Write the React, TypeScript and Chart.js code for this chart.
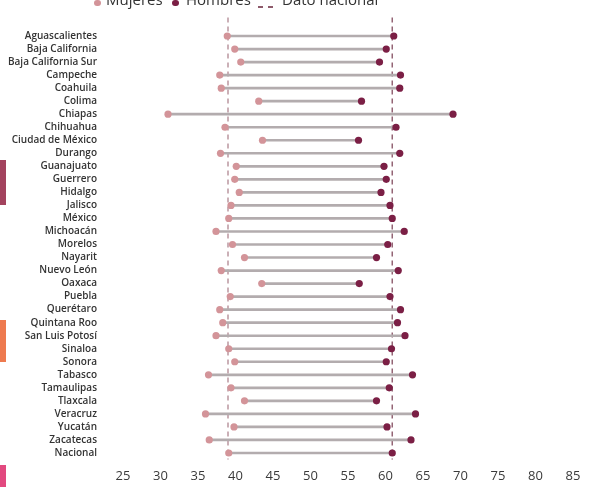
import React, { useEffect, useRef } from "react";
import { Chart, registerables } from "chart.js";

Chart.register(...registerables);

const states: string[] = [
  "Aguascalientes", "Baja California", "Baja California Sur", "Campeche", "Coahuila",
  "Colima", "Chiapas", "Chihuahua", "Ciudad de México", "Durango", "Guanajuato",
  "Guerrero", "Hidalgo", "Jalisco", "México", "Michoacán", "Morelos", "Nayarit",
  "Nuevo León", "Oaxaca", "Puebla", "Querétaro", "Quintana Roo", "San Luis Potosí",
  "Sinaloa", "Sonora", "Tabasco", "Tamaulipas", "Tlaxcala", "Veracruz", "Yucatán",
  "Zacatecas", "Nacional",
];

const mujeres: number[] = [
  38.9, 39.9, 40.7, 37.9, 38.1, 43.1, 31.0, 38.6, 43.6, 38.0, 40.1,
  39.9, 40.5, 39.4, 39.1, 37.4, 39.6, 41.2, 38.1, 43.5, 39.3, 37.9,
  38.3, 37.4, 39.1, 39.9, 36.4, 39.4, 41.2, 36.0, 39.8, 36.5, 39.1,
];

const hombres: number[] = [
  61.1, 60.1, 59.2, 62.0, 61.9, 56.8, 69.0, 61.4, 56.4, 61.9, 59.8,
  60.1, 59.4, 60.6, 60.9, 62.5, 60.3, 58.8, 61.7, 56.5, 60.6, 62.0,
  61.6, 62.6, 60.8, 60.1, 63.6, 60.5, 58.8, 64.0, 60.2, 63.4, 60.9,
];

const nacionalMujeres = 39.0;
const nacionalHombres = 60.9;

const xTicks: number[] = [25, 30, 35, 40, 45, 50, 55, 60, 65, 70, 75, 80, 85];

const FONT = "'Open Sans', 'DejaVu Sans', sans-serif";

export default function App() {
  const ref = useRef<HTMLCanvasElement | null>(null);

  useEffect(() => {
    if (!ref.current) return;
    const dashPlugin = {
      id: "nationalLines",
      beforeDatasetsDraw(chart: any) {
        const { ctx, chartArea, scales } = chart;
        const lines = [
          { v: nacionalMujeres, c: "#bb97a0" },
          { v: nacionalHombres, c: "#946575" },
        ];
        ctx.save();
        ctx.lineWidth = 1.5;
        ctx.setLineDash([5, 4]);
        lines.forEach((l) => {
          const x = scales.x.getPixelForValue(l.v);
          ctx.strokeStyle = l.c;
          ctx.beginPath();
          ctx.moveTo(x, chartArea.top - 12);
          ctx.lineTo(x, chartArea.bottom);
          ctx.stroke();
        });
        ctx.restore();
      },
    };

    const chart = new Chart(ref.current, {
      type: "bar",
      data: {
        labels: states,
        datasets: [
          {
            type: "line",
            label: "Hombres",
            indexAxis: "y",
            data: hombres,
            showLine: false,
            pointRadius: 3.6,
            pointBackgroundColor: "#7b1f45",
            pointBorderWidth: 0,
            borderColor: "#7b1f45",
            order: 1,
          } as any,
          {
            type: "line",
            label: "Mujeres",
            indexAxis: "y",
            data: mujeres,
            showLine: false,
            pointRadius: 3.6,
            pointBackgroundColor: "#d39499",
            pointBorderWidth: 0,
            borderColor: "#d39499",
            order: 2,
          } as any,
          {
            type: "bar",
            label: "Rango",
            indexAxis: "y",
            data: states.map((_, i) => [mujeres[i], hombres[i]]),
            backgroundColor: "#b3acae",
            barThickness: 2,
            borderWidth: 0,
            order: 3,
          } as any,
        ],
      },
      options: {
        indexAxis: "y",
        animation: false,
        responsive: false,
        devicePixelRatio: 1,
        layout: { padding: { top: 29.5, left: 0, right: 16, bottom: 0 } },
        plugins: { legend: { display: false }, tooltip: { enabled: false } },
        scales: {
          x: {
            type: "linear",
            min: 25,
            max: 85,
            afterBuildTicks: (scale: any) => {
              scale.ticks = xTicks.map((v) => ({ value: v }));
            },
            afterFit: (scale: any) => {
              scale.height = 27.5;
            },
            grid: { display: false, drawTicks: false },
            border: { display: false },
            ticks: {
              padding: 8.5,
              color: "#3a3a3a",
              font: { family: FONT, size: 13 },
            },
          },
          y: {
            type: "category",
            offset: true,
            afterFit: (scale: any) => {
              scale.width = 123;
              scale.paddingTop = 0;
              scale.paddingBottom = 0;
            },
            grid: { display: false, drawTicks: false },
            border: { display: false },
            ticks: {
              padding: 26,
              autoSkip: false,
              color: "#333333",
              font: { family: FONT, size: 10, weight: 600 as any },
            },
          },
        },
      } as any,
      plugins: [dashPlugin],
    });
    return () => chart.destroy();
  }, []);

  const legendText: React.CSSProperties = {
    position: "absolute",
    top: -8,
    fontFamily: FONT,
    fontSize: 15,
    lineHeight: 1,
    color: "#333333",
    whiteSpace: "nowrap",
  };

  return (
    <div style={{ position: "fixed", left: 0, top: 0, width: 589, height: 487, background: "#ffffff", overflow: "hidden" }}>
      <canvas ref={ref} width={589} height={487} style={{ position: "absolute", left: 0, top: 0, width: 589, height: 487 }} />
      <div style={{ position: "absolute", left: 94, top: -0.5, width: 6.5, height: 6.5, borderRadius: "50%", background: "#d39499" }} />
      <div style={{ ...legendText, left: 106 }}>Mujeres</div>
      <div style={{ position: "absolute", left: 172, top: -0.5, width: 6.5, height: 6.5, borderRadius: "50%", background: "#7b1f45" }} />
      <div style={{ ...legendText, left: 186 }}>Hombres</div>
      <div style={{ position: "absolute", left: 258, top: 6, width: 5, height: 1.5, background: "#8e5a6b" }} />
      <div style={{ position: "absolute", left: 268, top: 6, width: 5, height: 1.5, background: "#8e5a6b" }} />
      <div style={{ ...legendText, left: 282 }}>Dato nacional</div>
      <div style={{ position: "absolute", left: 0, top: 160, width: 6, height: 45, background: "#a3435e" }} />
      <div style={{ position: "absolute", left: 0, top: 320, width: 6, height: 42, background: "#ee7a4f" }} />
      <div style={{ position: "absolute", left: 0, top: 465, width: 6, height: 22, background: "#e2497f" }} />
    </div>
  );
}
